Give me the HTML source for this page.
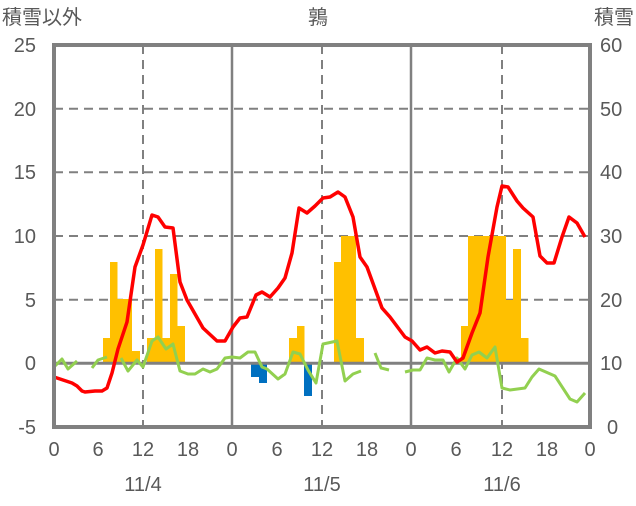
<!DOCTYPE html>
<html><head><meta charset="utf-8"><style>
body{margin:0;background:#fff}
svg text{font-family:"Liberation Sans","Noto Sans CJK JP",sans-serif;fill:#595959}
</style></head><body>
<svg width="636" height="501" xmlns="http://www.w3.org/2000/svg">
<rect width="636" height="501" fill="#fff"/>
<!-- grid -->
<g stroke="#808080" stroke-width="2" stroke-dasharray="9,6">
<line x1="54" y1="108.7" x2="590" y2="108.7"/>
<line x1="54" y1="172.3" x2="590" y2="172.3"/>
<line x1="54" y1="236" x2="590" y2="236"/>
<line x1="54" y1="299.7" x2="590" y2="299.7"/>
<line x1="143" y1="45" x2="143" y2="427"/>
<line x1="322" y1="45" x2="322" y2="427"/>
<line x1="502" y1="45" x2="502" y2="427"/>
</g>
<g stroke="#808080" stroke-width="2.5">
<line x1="232" y1="45" x2="232" y2="427"/>
<line x1="411" y1="45" x2="411" y2="427"/>
</g>
<!-- bars -->
<g fill="#FFC000">
<rect x="103" y="338" width="7.5" height="25"/>
<rect x="110" y="262" width="7.5" height="101"/>
<rect x="117" y="299" width="15" height="64"/>
<rect x="132" y="351" width="8" height="12"/>
<rect x="147" y="338" width="8" height="25"/>
<rect x="155" y="249" width="7.5" height="114"/>
<rect x="162" y="338" width="8" height="25"/>
<rect x="170" y="274" width="7.5" height="89"/>
<rect x="177" y="326" width="8" height="37"/>
<rect x="289" y="338" width="8" height="25"/>
<rect x="297" y="326" width="7.5" height="37"/>
<rect x="334" y="262" width="7.5" height="101"/>
<rect x="341" y="236" width="15" height="127"/>
<rect x="356" y="338" width="8" height="25"/>
<rect x="461" y="326" width="7.5" height="37"/>
<rect x="468" y="236" width="38" height="127"/>
<rect x="506" y="300" width="7.5" height="63"/>
<rect x="513" y="249" width="8" height="114"/>
<rect x="521" y="338" width="7.5" height="25"/>
</g>
<g fill="#0070C0">
<rect x="251" y="363" width="8" height="14"/>
<rect x="259" y="363" width="8" height="20"/>
<rect x="304" y="363" width="8" height="33"/>
</g>
<line x1="54" y1="363.3" x2="590" y2="363.3" stroke="#808080" stroke-width="3"/>
<!-- green -->
<g fill="none" stroke="#92D050" stroke-width="3" stroke-linejoin="round">
<polyline points="53,368 62,359 68,369 77,361"/>
<polyline points="92,368 98,360 107,357"/>
<polyline points="121,358 128,371 137,360 143,367 152,341 158,337 166,349 173,344 180,371 188,374 195,374 203,369 210,372 217,369 225,358 232,357 240,358 248,352 255,352 262,367 267,369 278,379 285,374 293,352 300,354 308,370 316,383 323,344 337,341 345,381 353,374 361,371"/>
<polyline points="375,353 381,368 389,370"/>
<polyline points="405,372 413,370 420,370 427,358 435,360 443,360 449,372 457,358 465,369 472,355 479,352 487,358 495,347 502,388 510,390 525,388 532,377 539,369 555,376 570,399 577,402 585,393"/>
</g>
<!-- red -->
<polyline fill="none" stroke="#FF0000" stroke-width="3.5" stroke-linejoin="round" points="54,377 63,380 72,383 77,386 82,391 85,392 95,391 102,391 107,388 112,373 118,349 127,322 135,267 143,245 152,215 158,217 165,227 173,228 180,282 187,300 203,328 217,341 225,341 233,327 240,318 247,317 256,295 262,292 270,297 278,288 285,278 292,253 299,208 307,213 315,206 323,198 330,197 338,192 345,197 353,217 360,257 367,267 382,308 390,317 405,337 412,341 420,350 427,347 435,353 442,351 450,352 457,362 463,358 472,333 480,313 488,257 497,207 502,186 508,187 517,201 523,208 533,217 540,256 547,263 554,263 562,237 569,217 577,223 585,237"/>
<!-- frame -->
<rect x="54" y="45" width="536" height="382" fill="none" stroke="#808080" stroke-width="4"/>
<!-- labels -->
<g font-size="20">
<text x="2" y="24">積雪以外</text>
<text x="318" y="24" text-anchor="middle">鶉</text>
<text x="634" y="24" text-anchor="end">積雪</text>
</g>
<g font-size="20" text-anchor="end">
<text x="36" y="52">25</text><text x="36" y="116">20</text><text x="36" y="179">15</text>
<text x="36" y="243">10</text><text x="36" y="307">5</text><text x="36" y="370">0</text><text x="36" y="434">-5</text>
</g>
<g font-size="20">
<text x="600" y="52">60</text><text x="600" y="116">50</text><text x="600" y="179">40</text>
<text x="600" y="243">30</text><text x="600" y="307">20</text><text x="600" y="370">10</text><text x="607" y="434">0</text>
</g>
<g font-size="20" text-anchor="middle">
<text x="54" y="456">0</text><text x="98" y="456">6</text><text x="143" y="456">12</text><text x="188" y="456">18</text>
<text x="232" y="456">0</text><text x="277" y="456">6</text><text x="322" y="456">12</text><text x="367" y="456">18</text>
<text x="411" y="456">0</text><text x="456" y="456">6</text><text x="502" y="456">12</text><text x="547" y="456">18</text>
<text x="590" y="456">0</text>
<text x="143" y="491">11/4</text><text x="322" y="491">11/5</text><text x="502" y="491">11/6</text>
</g>
</svg>
</body></html>
